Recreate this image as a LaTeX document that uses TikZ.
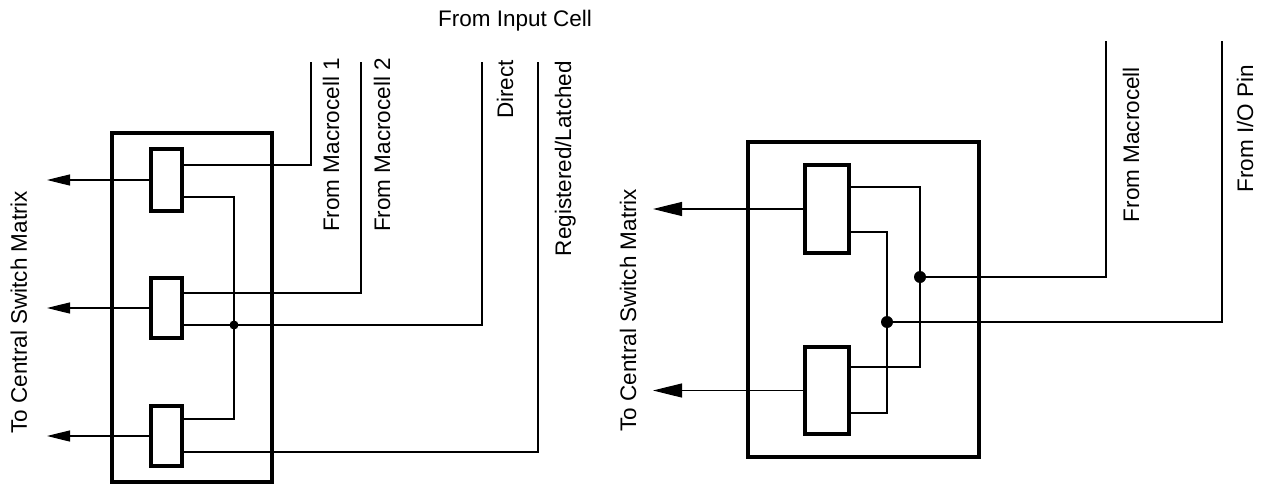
\documentclass[tikz,border=0pt]{standalone}
\usepackage{fontspec}
\setmainfont{Liberation Sans}
\usetikzlibrary{arrows.meta}
\begin{document}
\begin{tikzpicture}[x=1pt,y=-1pt,
  font=\fontsize{22.5}{27}\selectfont,
  wire/.style={line width=1.2pt, line join=miter},
  outerbox/.style={draw, rectangle, line width=3.6pt, inner sep=0pt, outer sep=0pt},
  muxbox/.style={draw, rectangle, line width=3.6pt, inner sep=0pt, outer sep=0pt, fill=white},
  jdot/.style={circle, fill=black, inner sep=0pt},
  lbl/.style={inner sep=0pt, outer sep=0pt},
  arrL/.style={wire, -{Triangle[length=23pt,width=11pt]}},
  arrR/.style={wire, -{Triangle[length=29pt,width=14pt]}}]
\useasboundingbox (0,0) rectangle (1265,487);

% ---------- left block ----------
\node[outerbox, minimum width=160pt, minimum height=349pt] (L) at (192,307.5) {};
\node[muxbox, minimum width=31pt, minimum height=62pt] (m1) at (166.5,180) {};
\node[muxbox, minimum width=31pt, minimum height=60pt] (m2) at (166.5,308) {};
\node[muxbox, minimum width=31pt, minimum height=60pt] (m3) at (166.5,436) {};
\node[jdot, minimum size=9pt] (j1) at (234,325) {};

\coordinate (a1) at (47,180);
\coordinate (a2) at (47,308);
\coordinate (a3) at (47,436);
\coordinate (t1) at (311,62);
\coordinate (t2) at (361,62);
\coordinate (t3) at (482,62);
\coordinate (t4) at (538,62);

\draw[arrL] (m1.west) -- (a1);
\draw[arrL] (m2.west) -- (a2);
\draw[arrL] (m3.west) -- (a3);

\draw[wire] ([yshift=15pt]m1.east) -| (t1);
\draw[wire] ([yshift=-17pt]m1.east) -| (j1.center) |- ([yshift=17pt]m3.east);
\draw[wire] ([yshift=15pt]m2.east) -| (t2);
\draw[wire] ([yshift=-17pt]m2.east) -| (t3);
\draw[wire] ([yshift=-16pt]m3.east) -| (t4);

\node[lbl, anchor=base] (inc) at (515,27) {From Input Cell};
\node[lbl, rotate=90, anchor=base east] (lfm1) at (339,58) {From Macrocell 1};
\node[lbl, rotate=90, anchor=base east] (lfm2) at (390,58) {From Macrocell 2};
\node[lbl, rotate=90, anchor=base east] (ldir) at (513,60) {Direct};
\node[lbl, rotate=90, anchor=base east] (lreg) at (571,61) {Registered/Latched};
\node[lbl, rotate=90, anchor=base] (lcsm1) at (27,312) {To Central Switch Matrix};

% ---------- right block ----------
\node[outerbox, minimum width=231pt, minimum height=315pt] (R) at (863.5,299.5) {};
\node[muxbox, minimum width=44pt, minimum height=88pt] (mA) at (827,209) {};
\node[muxbox, minimum width=44pt, minimum height=87pt] (mB) at (827,390.5) {};
\node[jdot, minimum size=12pt] (j2) at (920,277) {};
\node[jdot, minimum size=12pt] (j3) at (887,322) {};

\coordinate (a4) at (653,209);
\coordinate (a5) at (653,390.5);
\coordinate (t5) at (1106,41);
\coordinate (t6) at (1222,41);

\draw[arrR] (mA.west) -- (a4);
\draw[arrR] (mB.west) -- (a5);

\draw[wire] ([yshift=22pt]mA.east) -| (j2.center) |- ([yshift=23.5pt]mB.east);
\draw[wire] ([yshift=-23pt]mA.east) -| (j3.center) |- ([yshift=-22.5pt]mB.east);
\draw[wire] (j2.center) -| (t5);
\draw[wire] (j3.center) -| (t6);

\node[lbl, rotate=90, anchor=base east] (lfm) at (1139,67) {From Macrocell};
\node[lbl, rotate=90, anchor=base east] (lio) at (1253,65) {From I/O Pin};
\node[lbl, rotate=90, anchor=base] (lcsm2) at (636,310) {To Central Switch Matrix};
\end{tikzpicture}
\end{document}
